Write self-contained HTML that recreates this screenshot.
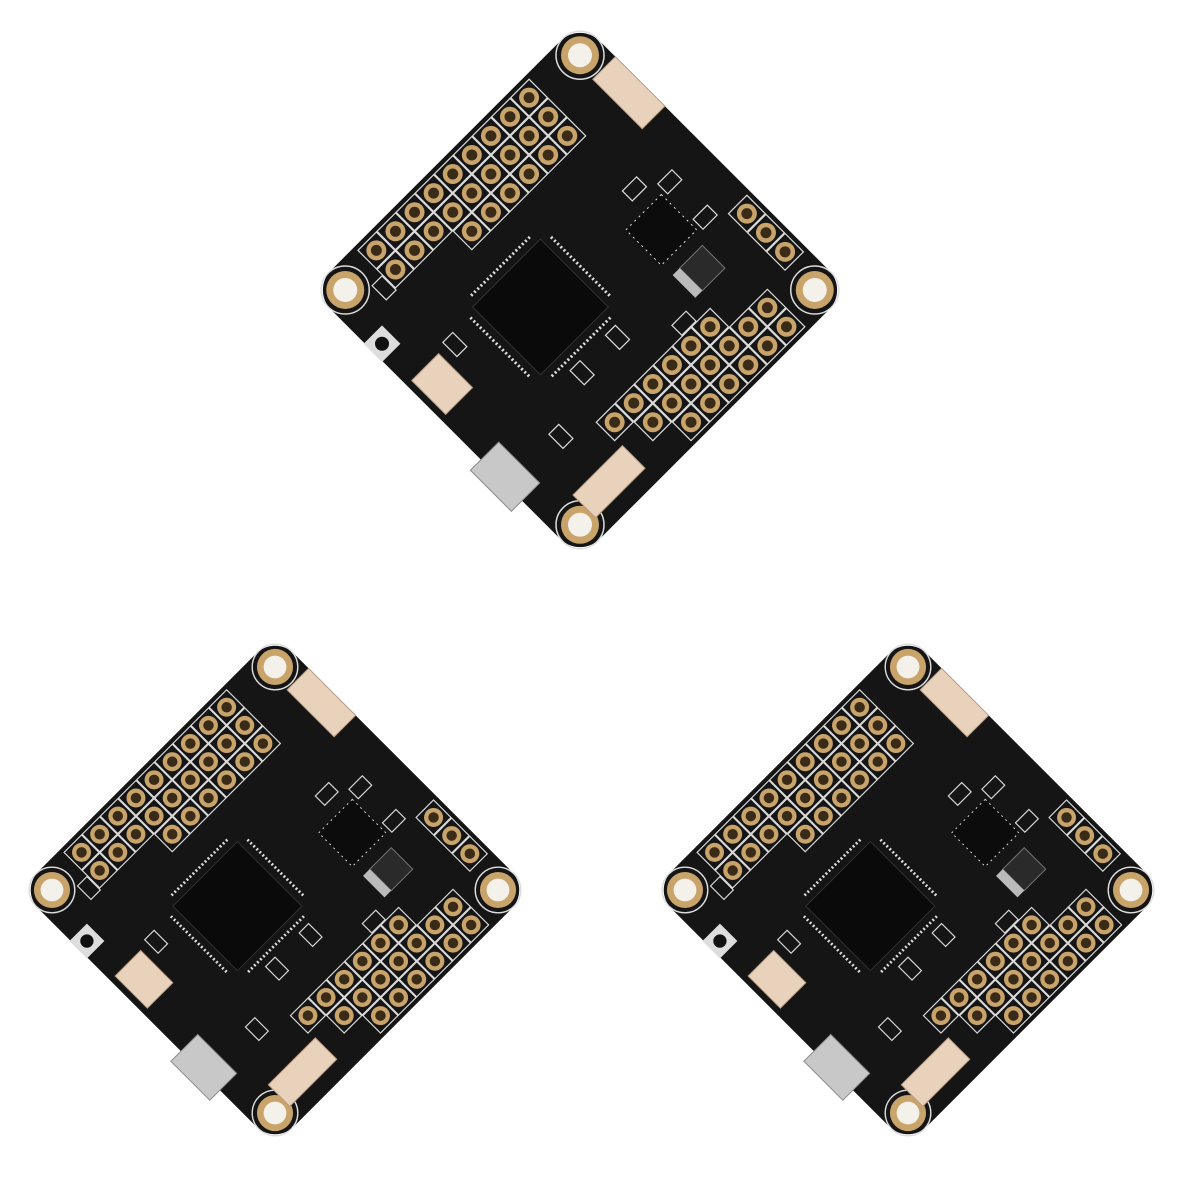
<!DOCTYPE html>
<html><head><meta charset="utf-8"><style>html,body{margin:0;padding:0;background:#fff}svg{display:block}</style></head>
<body>
<svg width="1200" height="1200" viewBox="0 0 1200 1200" xmlns="http://www.w3.org/2000/svg">
<defs>
<g id="pad"><circle r="10" fill="#c9a46a"/><circle r="5.5" fill="#3a2a18"/><rect x="-13" y="-13" width="26" height="26" fill="none" stroke="#ddd" stroke-width="1.2"/></g>
<g id="hole"><circle r="24" fill="none" stroke="#ddd" stroke-width="1.5"/><circle r="19" fill="#c9a46a"/><circle r="12" fill="#f4f0ea"/></g>
<g id="board">
<rect x="-190" y="-190" width="380" height="380" rx="28" fill="#151515"/>
<use href="#hole" x="-166" y="-166"/><use href="#hole" x="166" y="-166"/><use href="#hole" x="-166" y="166"/><use href="#hole" x="166" y="166"/>
<!-- pad rows along x=-a edge -->
<g>
<use href="#pad" x="-172" y="-100"/><use href="#pad" x="-172" y="-73"/><use href="#pad" x="-172" y="-46"/><use href="#pad" x="-172" y="-19"/><use href="#pad" x="-172" y="8"/><use href="#pad" x="-172" y="35"/><use href="#pad" x="-172" y="62"/><use href="#pad" x="-172" y="89"/><use href="#pad" x="-172" y="116"/>
<use href="#pad" x="-145" y="-100"/><use href="#pad" x="-145" y="-73"/><use href="#pad" x="-145" y="-46"/><use href="#pad" x="-145" y="-19"/><use href="#pad" x="-145" y="8"/><use href="#pad" x="-145" y="35"/><use href="#pad" x="-145" y="62"/><use href="#pad" x="-145" y="89"/><use href="#pad" x="-145" y="116"/>
<use href="#pad" x="-118" y="-100"/><use href="#pad" x="-118" y="-73"/><use href="#pad" x="-118" y="-46"/><use href="#pad" x="-118" y="-19"/><use href="#pad" x="-118" y="8"/><use href="#pad" x="-118" y="35"/>
</g>
<!-- pads along x=+a edge -->
<g>
<use href="#pad" x="172" y="-120"/><use href="#pad" x="172" y="-93"/><use href="#pad" x="172" y="-66"/><use href="#pad" x="172" y="-39"/><use href="#pad" x="172" y="-12"/><use href="#pad" x="172" y="15"/>
<use href="#pad" x="145" y="-120"/><use href="#pad" x="145" y="-93"/><use href="#pad" x="145" y="-66"/><use href="#pad" x="145" y="-39"/><use href="#pad" x="145" y="-12"/><use href="#pad" x="145" y="15"/><use href="#pad" x="145" y="42"/>
<use href="#pad" x="118" y="-66"/><use href="#pad" x="118" y="-39"/><use href="#pad" x="118" y="-12"/><use href="#pad" x="118" y="15"/><use href="#pad" x="118" y="42"/><use href="#pad" x="118" y="69"/>
<use href="#pad" x="64" y="-172"/><use href="#pad" x="91" y="-172"/><use href="#pad" x="118" y="-172"/>
</g>
<!-- connectors -->
<rect x="-140" y="-190" width="70" height="32" fill="#e8d2bc" stroke="#b89a80"/>
<rect x="140" y="80" width="32" height="70" fill="#e8d2bc" stroke="#b89a80"/>
<rect x="-55" y="145" width="48" height="38" fill="#e8d2bc" stroke="#b89a80"/>
<rect x="50" y="165" width="58" height="40" fill="#c8c8c8" stroke="#888"/>
<rect x="-115" y="165" width="26" height="26" fill="#ddd"/><circle cx="-102" cy="178" r="7" fill="#111"/>
<!-- chip -->
<rect x="-64" y="-8" width="96" height="96" fill="#0a0a0a" stroke="#333"/>
<g stroke="#ddd" stroke-width="3">
<line x1="-58" y1="-17" x2="26" y2="-17" stroke-dasharray="2 2.5"/>
<line x1="-58" y1="97" x2="26" y2="97" stroke-dasharray="2 2.5"/>
<line x1="-73" y1="-2" x2="-73" y2="82" stroke-dasharray="2 2.5"/>
<line x1="41" y1="-2" x2="41" y2="82" stroke-dasharray="2 2.5"/>
</g>
<rect x="-10" y="-125" width="50" height="50" fill="#0c0c0c" stroke="#ddd" stroke-dasharray="2 4"/>
<rect x="55" y="-118" width="32" height="32" fill="#2a2a2a" stroke="#777"/>
<rect x="55" y="-86" width="32" height="10" fill="#bbb"/>
<g fill="none" stroke="#ddd" stroke-width="1.2">
<rect x="-40" y="-120" width="14" height="20"/><rect x="-20" y="-150" width="14" height="20"/><rect x="30" y="-150" width="14" height="20"/><rect x="90" y="-60" width="14" height="20"/><rect x="50" y="0" width="20" height="14"/><rect x="50" y="50" width="20" height="14"/><rect x="-60" y="120" width="20" height="14"/><rect x="-150" y="130" width="20" height="14"/><rect x="80" y="110" width="20" height="14"/>
</g>
</g>
</defs>
<rect width="1200" height="1200" fill="#fff"/>
<use href="#board" transform="translate(580,290) rotate(45)"/>
<use href="#board" transform="translate(275,890) rotate(45) scale(0.95)"/>
<use href="#board" transform="translate(908,890) rotate(45) scale(0.95)"/>
</svg>
</body></html>
